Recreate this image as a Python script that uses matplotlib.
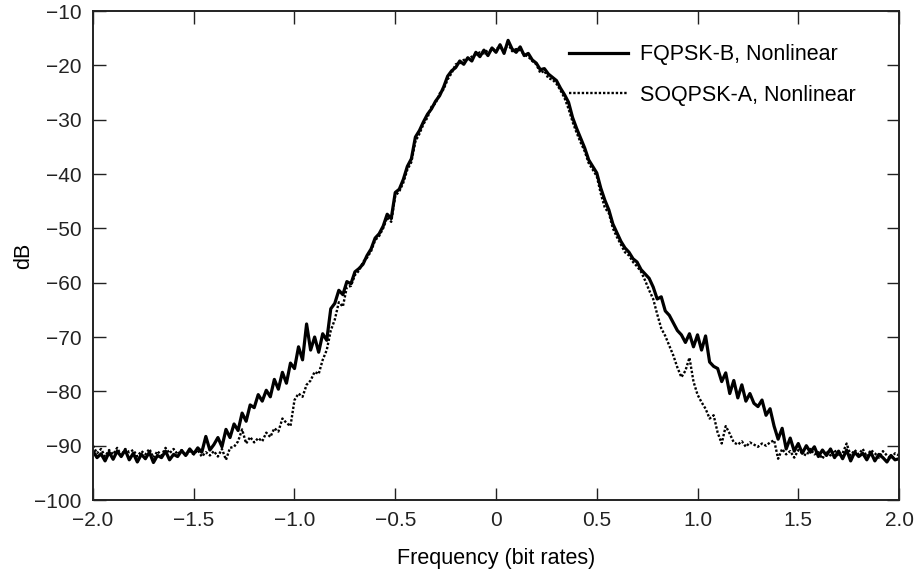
import numpy as np
import matplotlib
matplotlib.use("Agg")
import matplotlib.pyplot as plt

plt.rcParams['font.family'] = ['Liberation Sans', 'DejaVu Sans']

# Frequency grid (bit rates)
freq = np.linspace(-2.0, 2.0, 201)

fqpsk_b = [
    -91.0, -92.2, -91.5, -92.8, -91.2, -92.5, -91.0, -92.0, -90.8, -92.6,
    -91.4, -93.0, -91.6, -92.4, -91.2, -93.1, -91.8, -92.2, -91.0, -92.6,
    -91.6, -92.0, -90.9, -91.8, -90.6, -91.5, -90.4, -91.2, -88.3, -90.8,
    -89.8, -88.5, -90.2, -87.0, -88.5, -86.0, -87.2, -84.0, -85.5, -82.5,
    -83.0, -80.6, -81.8, -79.8, -81.0, -77.8, -79.6, -76.5, -78.5, -74.8,
    -75.8, -71.8, -74.2, -67.6, -72.4, -70.0, -72.8, -69.4, -70.6, -64.8,
    -63.8, -61.4, -62.2, -59.8, -60.2, -58.0, -57.4, -56.6, -55.0, -53.8,
    -51.8, -51.0, -49.6, -47.4, -48.2, -43.4, -42.8, -41.0, -38.6, -37.2,
    -33.2, -32.0, -30.4, -29.0, -28.0, -26.6, -25.6, -24.0, -22.0, -21.0,
    -20.4, -19.2, -19.8, -18.6, -19.2, -17.6, -18.4, -17.2, -18.2, -16.8,
    -17.6, -16.2, -17.8, -15.4, -17.0, -17.6, -16.6, -18.2, -17.8, -19.0,
    -19.6, -20.8, -20.6, -21.6, -22.2, -22.8, -24.2, -25.4, -26.8, -29.6,
    -31.6, -33.4, -35.2, -37.4, -38.6, -39.8, -42.6, -44.8, -46.6, -49.2,
    -50.8, -52.4, -53.6, -54.4, -55.6, -56.2, -57.6, -58.4, -59.2, -60.8,
    -63.0, -62.6, -65.2, -66.0, -67.4, -68.8, -69.6, -71.0, -69.4, -71.8,
    -69.6, -72.4, -69.8, -74.6, -75.4, -75.8, -78.2, -76.6, -80.4, -78.0,
    -81.2, -78.8, -81.8, -80.4, -82.2, -82.8, -81.6, -84.4, -83.2, -86.4,
    -88.8, -86.8, -90.6, -88.6, -91.0, -89.6, -91.4, -90.0, -91.2, -90.2,
    -92.0, -90.8, -91.8, -90.6, -92.2, -91.0, -92.4, -90.8, -92.8, -91.2,
    -92.0, -91.4, -92.6, -91.2, -92.8, -91.6, -92.2, -93.0, -91.8, -92.6,
    -92.4,
]

soqpsk_a = [
    -90.0, -91.4, -90.6, -92.0, -90.8, -91.6, -90.4, -91.8, -90.6, -91.2,
    -90.8, -92.0, -91.0, -91.6, -90.6, -92.2, -91.0, -91.8, -90.4, -91.4,
    -90.6, -91.6, -90.8, -91.8, -91.0, -91.6, -90.8, -92.0, -91.2, -91.8,
    -91.0, -92.0, -90.6, -92.6, -90.4, -90.2, -89.2, -87.0, -89.6, -88.4,
    -89.4, -88.6, -89.2, -87.6, -88.4, -86.8, -87.4, -85.0, -85.8, -86.4,
    -81.6, -80.4, -81.0, -78.8, -78.0, -76.4, -76.8, -74.2, -72.4, -68.8,
    -66.8, -63.6, -64.4, -60.8, -60.6, -58.6, -57.8, -56.2, -55.4, -54.2,
    -52.2, -51.4, -50.0, -48.0, -48.8, -44.0, -43.2, -41.6, -39.2, -37.8,
    -34.0, -32.6, -30.8, -29.6, -27.6, -27.0, -25.2, -24.4, -22.6, -21.4,
    -19.8, -19.6, -19.0, -18.8, -18.4, -18.0, -17.6, -17.8, -17.2, -17.4,
    -17.0, -16.6, -17.4, -16.0, -17.4, -17.0, -17.2, -18.0, -18.4, -19.2,
    -19.8, -21.4, -21.0, -22.4, -22.6, -23.4, -24.6, -26.0, -28.0, -30.4,
    -32.4, -34.2, -35.8, -38.0, -39.2, -40.4, -43.6, -46.2, -47.2, -50.0,
    -51.6, -53.0, -54.4, -55.0, -56.2, -57.0, -58.0, -59.6, -61.4, -63.0,
    -65.8, -68.4, -69.8, -71.6, -73.4, -75.6, -77.4, -76.2, -73.8, -78.2,
    -80.6, -82.0, -83.2, -85.0, -84.4, -87.6, -89.6, -86.4, -87.8, -89.4,
    -89.8, -89.2, -90.2, -89.4, -89.8, -90.2, -89.6, -90.0, -89.4, -89.0,
    -92.4, -90.6, -91.6, -91.0, -92.2, -90.8, -91.4, -91.8, -90.6, -91.6,
    -91.2, -92.4, -91.0, -91.8, -90.8, -92.0, -91.4, -89.6, -91.8, -90.8,
    -91.6, -90.6, -92.0, -90.8, -91.4, -92.2, -91.0, -91.8, -92.4, -91.4,
    -91.8,
]

x_ticks = [-2.0, -1.5, -1.0, -0.5, 0.0, 0.5, 1.0, 1.5, 2.0]
x_tick_labels = ['\u22122.0', '\u22121.5', '\u22121.0', '\u22120.5', '0', '0.5', '1.0', '1.5', '2.0']
y_ticks = [-100, -90, -80, -70, -60, -50, -40, -30, -20, -10]
y_tick_labels = ['\u2212%d' % abs(v) for v in y_ticks]

fig = plt.figure(figsize=(9.17, 5.71), dpi=100)
ax = fig.add_axes([0.1014, 0.1243, 0.879, 0.8564])

ax.plot(freq, fqpsk_b, color='black', lw=2.3, label='FQPSK-B, Nonlinear')
ax.plot(freq, soqpsk_a, color='black', lw=1.7, linestyle=(0, (1, 0.8)),
        label='SOQPSK-A, Nonlinear')

ax.set_xlim(-2.0, 2.0)
ax.set_ylim(-100, -10)
ax.set_xticks(x_ticks)
ax.set_xticklabels(x_tick_labels)
ax.set_yticks(y_ticks)
ax.set_yticklabels(y_tick_labels)
ax.tick_params(direction='in', length=9, width=1.0, top=True, right=True,
               labelsize=15, colors='#222222')
ax.tick_params(axis='x', pad=8)
ax.tick_params(axis='y', pad=8)
for s in ax.spines.values():
    s.set_linewidth(1.4)
    s.set_color('#222222')

ax.set_xlabel('Frequency (bit rates)', fontsize=15.5, labelpad=13)
ax.set_ylabel('dB', fontsize=15.5, labelpad=0)

leg = ax.legend(loc='upper left', bbox_to_anchor=(0.5906, 0.932), frameon=False,
                borderpad=0, borderaxespad=0,
                fontsize=15.5, handlelength=2.75, handletextpad=0.55, labelspacing=0.9)

fig.savefig('out.png', dpi=100)
